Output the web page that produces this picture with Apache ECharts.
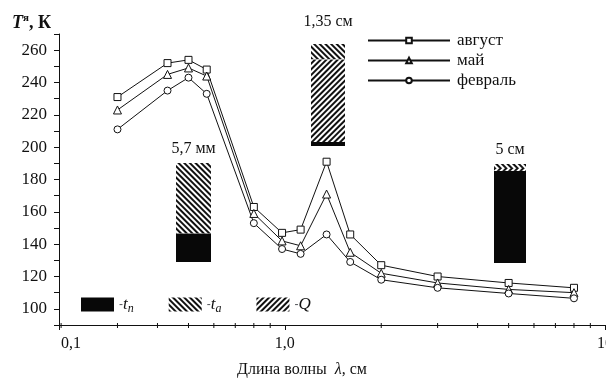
<!DOCTYPE html>
<html><head><meta charset="utf-8">
<script src="https://cdn.jsdelivr.net/npm/echarts@6/dist/echarts.min.js"></script>
<style>html,body{margin:0;padding:0;background:#fff}#c{width:606px;height:378px}</style>
</head><body><div id="c"></div>
<script>
// ---- data ----
const wavelengths = [0.3, 0.43, 0.5, 0.57, 0.8, 0.98, 1.12, 1.35, 1.6, 2, 3, 5, 8];
const august   = [231, 252, 254, 248, 163, 147, 149, 191, 146, 127, 120, 116, 113];
const may      = [223, 245, 249, 244, 159, 142, 139, 171, 135, 122, 116, 112, 110];
const february = [211, 235, 243, 233, 153, 137, 134, 146, 129, 118, 113, 109.5, 106.5];
const seriesNames = ['август', 'май', 'февраль'];
const xMinorTicks = [0.2, 0.3, 0.4, 0.5, 0.6, 0.7, 0.8, 0.9, 2, 3, 4, 5, 6, 7, 8, 9];
const xTickLabels = ['0,1', '1,0', '10'];
const insetLabels = ['5,7 мм', '1,35 см', '5 см'];
const shareTn = [29, 4, 93];
const shareQ  = [0, 81, 3];
const shareTa = [71, 15, 4];

const FONT = 'Liberation Serif';
const INK = '#111';
const chart = echarts.init(document.getElementById('c'), null, {renderer: 'canvas'});

const pair = (xs, ys) => xs.map((x, i) => [x, ys[i]]);
function lineSeries(name, sym, size, ys) {
  return {
    type: 'line', name, data: pair(wavelengths, ys), xAxisIndex: 0, yAxisIndex: 0,
    symbol: sym, symbolSize: size, showAllSymbol: true,
    lineStyle: {color: INK, width: 1},
    itemStyle: {color: '#fff', borderColor: INK, borderWidth: 1},
    z: 3, animation: false
  };
}
const decalTa = {symbol: 'rect', symbolSize: 1, dashArrayX: [1, 0], dashArrayY: [1.5, 1.4], rotation: Math.PI / 4, color: INK, backgroundColor: '#fff'};
const decalQ  = {symbol: 'rect', symbolSize: 1, dashArrayX: [1, 0], dashArrayY: [1.6, 1.2], rotation: -Math.PI / 4, color: INK, backgroundColor: '#fff'};

const insetBoxes = [
  {left: 176, top: 163, width: 35, height: 99, margin: 6},
  {left: 311, top: 44, width: 34, height: 102, margin: 14},
  {left: 494, top: 164, width: 32, height: 99, margin: 6}
];

const grids = [{left: 59, right: 1, top: 34, bottom: 53, outerBoundsMode: 'none', containLabel: false}];
const xAxes = [{
  type: 'log', gridIndex: 0, logBase: 10, min: 0.197, max: 10,
  axisLine: {lineStyle: {color: INK, width: 1}},
  axisTick: {length: 5, lineStyle: {color: INK}},
  splitLine: {show: false}, minorTick: {show: false},
  axisLabel: {
    showMinLabel: true, showMaxLabel: true, color: INK, fontFamily: FONT, fontSize: 16, margin: 11,
    formatter: v => v < 0.5 ? '{a|' + xTickLabels[0] + '}' : (v < 5 ? xTickLabels[1] : xTickLabels[2]),
    rich: {a: {fontFamily: FONT, fontSize: 16, color: INK, padding: [0, 0, 0, 24]}}
  },
  name: '{n|Длина волны  }{l|λ}{n|, см}', nameLocation: 'middle', nameGap: 37,
  nameTextStyle: {padding: [0, 60, 0, 0], rich: {
    n: {fontFamily: FONT, fontSize: 16, color: INK},
    l: {fontFamily: FONT, fontSize: 16, color: INK, fontStyle: 'italic'}
  }}
}];
const yAxes = [{
  type: 'value', gridIndex: 0, min: 90, max: 270, interval: 10,
  axisLine: {show: true, lineStyle: {color: INK, width: 1}},
  axisTick: {show: true, length: 5, lineStyle: {color: INK}},
  splitLine: {show: false},
  axisLabel: {color: INK, fontFamily: FONT, fontSize: 17, margin: 12,
    formatter: v => (v % 20 === 0 && v >= 100 && v <= 260) ? String(v) : ''}
}];
insetBoxes.forEach((b, i) => {
  grids.push({left: b.left, top: b.top, width: b.width, height: b.height, outerBoundsMode: 'none', containLabel: false});
  xAxes.push({type: 'category', gridIndex: i + 1, data: [insetLabels[i]], position: 'top',
    axisLine: {show: false}, axisTick: {show: false},
    axisLabel: {color: INK, fontFamily: FONT, fontSize: 16, margin: b.margin}});
  yAxes.push({type: 'value', gridIndex: i + 1, min: 0, max: 100, show: false});
});

const series = [
  lineSeries(seriesNames[0], 'rect', 7, august),
  lineSeries(seriesNames[1], 'triangle', 8, may),
  lineSeries(seriesNames[2], 'circle', 7, february),
  {
    type: 'custom', xAxisIndex: 0, yAxisIndex: 0, silent: true, clip: false, animation: false,
    data: xMinorTicks.map(v => [v, 90]),
    renderItem: (params, api) => {
      const p = api.coord([api.value(0), api.value(1)]);
      return {type: 'line', shape: {x1: p[0], y1: p[1] - 2, x2: p[0], y2: p[1] + 3}, style: {stroke: INK, lineWidth: 1}};
    }
  }
];
insetBoxes.forEach((b, i) => {
  const common = {type: 'bar', xAxisIndex: i + 1, yAxisIndex: i + 1, stack: 's' + i, barWidth: '100%', animation: false, silent: true};
  series.push(Object.assign({}, common, {name: 'tn', data: [shareTn[i]], itemStyle: {color: '#080808'}}));
  series.push(Object.assign({}, common, {name: 'Q', data: [shareQ[i]], itemStyle: {color: '#fff', decal: decalQ}}));
  series.push(Object.assign({}, common, {name: 'ta', data: [shareTa[i]], itemStyle: {color: '#fff', decal: decalTa}}));
});

const legendNames = {tn: '-{i|t}{s|п}', ta: '-{i|t}{s|а}', Q: '-{i|Q}'};
chart.setOption({
  backgroundColor: '#fff',
  animation: false,
  title: {
    text: '{i|T}{s|я}{n|, К}', left: 7, top: 8,
    textStyle: {rich: {
      i: {fontFamily: FONT, fontSize: 18, fontStyle: 'italic', color: INK},
      s: {fontFamily: FONT, fontSize: 11, color: INK, padding: [0, 0, 10, 0]},
      n: {fontFamily: FONT, fontSize: 18, color: INK}
    }}
  },
  legend: [
    {
      data: seriesNames, orient: 'vertical', left: 362, top: 26,
      itemWidth: 82, itemHeight: 7, itemGap: 1, selectedMode: false,
      textStyle: {fontFamily: FONT, fontSize: 17, lineHeight: 19, color: INK, padding: [0, 0, 0, 2]}
    },
    {
      data: ['tn', 'ta', 'Q'], orient: 'horizontal', left: 76, top: 291,
      itemWidth: 33, itemHeight: 14, itemGap: 35, icon: 'rect', selectedMode: false,
      formatter: n => legendNames[n],
      textStyle: {rich: {
        i: {fontFamily: FONT, fontSize: 17, fontStyle: 'italic', color: INK},
        s: {fontFamily: FONT, fontSize: 12, fontStyle: 'italic', color: INK, padding: [8, 0, 0, 0]}
      }}
    }
  ],
  grid: grids, xAxis: xAxes, yAxis: yAxes, series
});
</script></body></html>
